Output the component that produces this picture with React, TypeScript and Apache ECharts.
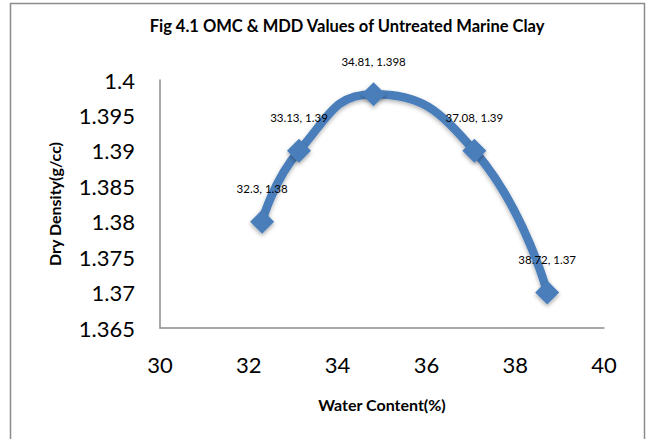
import React, { useEffect, useRef } from "react";
import * as echarts from "echarts";

const titleText = "Fig 4.1 OMC & MDD Values of Untreated Marine Clay";
const waterContent = [32.3, 33.13, 34.81, 37.08, 38.72];
const dryDensity = [1.38, 1.39, 1.398, 1.39, 1.37];
const xAxisName = "Water Content(%)";
const yAxisName = "Dry Density(g/cc)";

const FONT = "Lato, 'Open Sans', sans-serif";

export default function App() {
  const ref = useRef<HTMLDivElement>(null);
  useEffect(() => {
    if (!ref.current) return;
    const chart = echarts.init(ref.current, undefined, { renderer: "svg" });
    const data = waterContent.map((x, i) => [x, dryDensity[i]]);
    chart.setOption({
      animation: false,
      backgroundColor: "#ffffff",
      title: {
        text: titleText,
        left: 342,
        textAlign: "center",
        top: 12,
        textStyle: { fontFamily: FONT, fontSize: 16.5, fontWeight: "bold", color: "#000" },
      },
      graphic: [
        {
          type: "rect",
          shape: { x: 10.5, y: 3.5, width: 634, height: 470 },
          style: { fill: "none", stroke: "#8c8c8c", lineWidth: 1.5 },
          silent: true,
        },
      ],
      grid: { left: 160, right: 45, top: 80, bottom: 111 },
      xAxis: {
        type: "value",
        min: 30,
        max: 40,
        interval: 2,
        name: xAxisName,
        nameLocation: "middle",
        nameGap: 68,
        nameTextStyle: { fontFamily: FONT, fontSize: 16, fontWeight: "bold", color: "#000" },
        axisLine: { show: true, lineStyle: { color: "#8c8c8c", width: 1.5 } },
        axisTick: { show: false },
        splitLine: { show: false },
        axisLabel: { fontFamily: FONT, fontSize: 22, color: "#000", margin: 25 },
      },
      yAxis: {
        type: "value",
        min: 1.365,
        max: 1.4,
        interval: 0.005,
        name: yAxisName,
        nameLocation: "middle",
        nameGap: 98,
        nameRotate: 90,
        nameTextStyle: { fontFamily: FONT, fontSize: 16, fontWeight: "bold", color: "#000" },
        axisLine: { show: true, lineStyle: { color: "#8c8c8c", width: 1.5 } },
        axisTick: { show: false },
        splitLine: { show: false },
        axisLabel: {
          fontFamily: FONT,
          fontSize: 22,
          color: "#000",
          margin: 25,
          formatter: (v: number) => String(parseFloat(v.toFixed(3))),
        },
      },
      series: [
        {
          type: "line",
          data,
          smooth: 0.5,
          symbol: "diamond",
          symbolSize: 24,
          lineStyle: {
            color: "#4a7ebb",
            width: 8.5,
            shadowColor: "rgba(0,0,0,0.3)",
            shadowBlur: 4,
            shadowOffsetY: 2,
          },
          itemStyle: {
            color: "#4a7ebb",
            shadowColor: "rgba(0,0,0,0.35)",
            shadowBlur: 4,
            shadowOffsetY: 2,
          },
          label: {
            show: true,
            position: "top",
            distance: 15,
            fontFamily: FONT,
            fontSize: 11.5,
            color: "#000",
            formatter: (p: any) => `${p.value[0]}, ${p.value[1]}`,
          },
        },
      ],
    });
    return () => chart.dispose();
  }, []);
  return (
    <div
      ref={ref}
      style={{ position: "fixed", left: 0, top: 0, width: 649, height: 439 }}
    />
  );
}
